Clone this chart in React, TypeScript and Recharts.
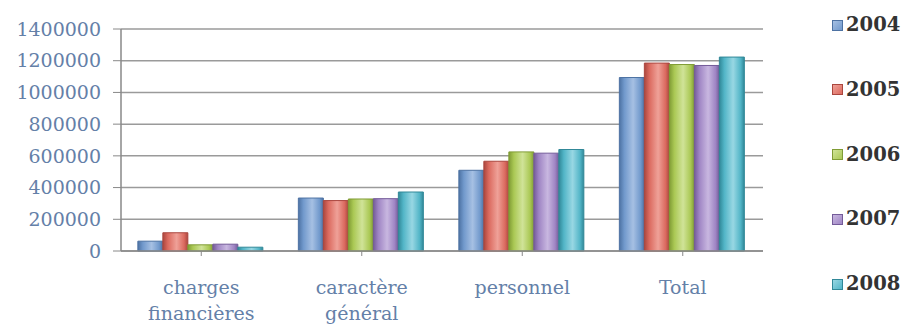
import React from 'react';
import { BarChart, Bar, XAxis, YAxis, CartesianGrid } from 'recharts';

const categories = ['charges financières', 'caractère général', 'personnel', 'Total'];
const years = ['2004', '2005', '2006', '2007', '2008'];
const v2004 = [62000, 334000, 509000, 1094000];
const v2005 = [115000, 318000, 566000, 1185000];
const v2006 = [39000, 328000, 625000, 1176000];
const v2007 = [43000, 330000, 617000, 1170000];
const v2008 = [24000, 372000, 640000, 1223000];
const yTicks = [0, 200000, 400000, 600000, 800000, 1000000, 1200000, 1400000];

const series = [v2004, v2005, v2006, v2007, v2008];
const colors = [
  { c: '#7199cc', d: '#4d72a3', l: '#a6c0e3' },
  { c: '#db6a5f', d: '#aa463e', l: '#efa198' },
  { c: '#aac854', d: '#809c35', l: '#d0e398' },
  { c: '#9f85c4', d: '#745b99', l: '#c8b7e0' },
  { c: '#52b5c7', d: '#318898', l: '#98d7e3' },
];

const data = categories.map((name, i) => {
  const row: Record<string, string | number> = { name };
  years.forEach((y, k) => { row[y] = series[k][i]; });
  return row;
});

const labelColor = '#6480a8';
const font = 'DejaVu Serif';

function CatTick({ x, y, payload }: any) {
  const words = String(payload.value).split(' ');
  return (
    <g transform={`translate(${x},${y})`}>
      {words.map((w, i) => (
        <text key={i} x={0} y={36 + i * 26} textAnchor="middle" fill={labelColor}
          fontFamily={font} fontSize={19}>{w}</text>
      ))}
    </g>
  );
}

function LegendBox() {
  return (
    <div style={{ position: 'absolute', left: 832, top: 13 }}>
      {years.map((y, i) => (
        <div key={y} style={{ position: 'absolute', top: i * 64.8, left: 0, display: 'flex', alignItems: 'center', whiteSpace: 'nowrap' }}>
          <div style={{ width: 9, height: 9, background: `linear-gradient(135deg, ${colors[i].l}, ${colors[i].c})`, border: `1px solid ${colors[i].d}`, marginRight: 3 }} />
          <span style={{ fontFamily: font, fontSize: 19.5, fontWeight: 'bold', color: '#333', lineHeight: '24px' }}>{y}</span>
        </div>
      ))}
    </div>
  );
}

export default function App() {
  return (
    <div style={{ position: 'absolute', left: 0, top: 0, width: 904, height: 325, background: '#fff', overflow: 'hidden' }}>
      <BarChart width={904} height={325} data={data}
        margin={{ top: 29, right: 141, bottom: 44, left: 0 }}
        barCategoryGap="10.5%" barGap={0}>
        <defs>
          {colors.map((c, i) => (
            <linearGradient key={i} id={`g${i}`} x1="0" y1="0" x2="1" y2="0">
              <stop offset="0%" stopColor={c.d} />
              <stop offset="20%" stopColor={c.c} />
              <stop offset="55%" stopColor={c.l} />
              <stop offset="85%" stopColor={c.c} />
              <stop offset="100%" stopColor={c.d} />
            </linearGradient>
          ))}
        </defs>
        <CartesianGrid vertical={false} stroke="#9a9a9a" strokeWidth={1.5} />
        <XAxis dataKey="name" tick={<CatTick />} tickLine={{ stroke: '#888' }} tickSize={5}
          axisLine={{ stroke: '#888', strokeWidth: 1.5 }} interval={0} height={30} />
        <YAxis width={121} domain={[0, 1400000]} ticks={yTicks} interval={0}
          tick={{ fill: labelColor, fontFamily: font, fontSize: 19 }}
          tickLine={{ stroke: '#888' }} tickSize={8} tickMargin={12}
          axisLine={{ stroke: '#888', strokeWidth: 1.5 }} />
        {years.map((y, i) => (
          <Bar key={y} dataKey={y} fill={`url(#g${i})`} stroke={colors[i].d} strokeWidth={1}
            isAnimationActive={false} />
        ))}
      </BarChart>
      <LegendBox />
    </div>
  );
}
